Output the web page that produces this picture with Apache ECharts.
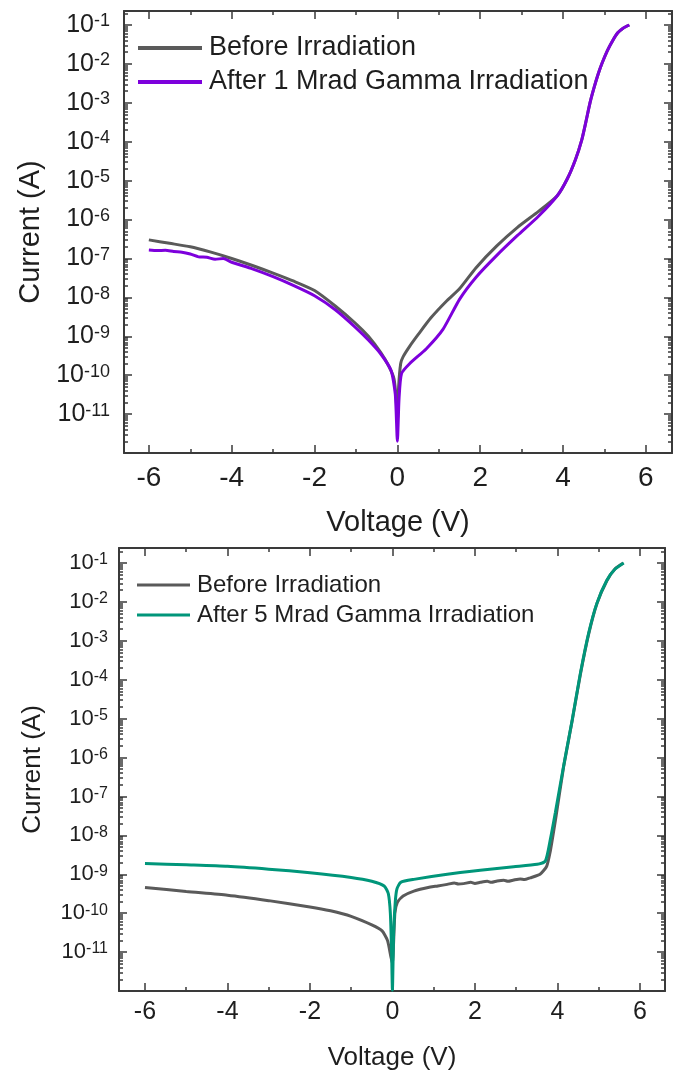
<!DOCTYPE html>
<html>
<head>
<meta charset="utf-8">
<script src="https://cdn.jsdelivr.net/npm/echarts@6/dist/echarts.min.js"></script>
<style>
html, body { margin: 0; padding: 0; background: #fff; }
#chart { width: 681px; height: 1072px; }
</style>
</head>
<body>
<div id="chart"></div>
<script>
var chart = echarts.init(document.getElementById('chart'));

// upper panel: before / after 1 Mrad
var before1V = [-6, -5.5, -5, -4.5, -4, -3.5, -3, -2.5, -2, -1.5, -1, -0.7, -0.4, -0.2, -0.08, -0.03, 0, 0.03, 0.08, 0.14,
    0.3, 0.5, 0.8, 1.2, 1.5, 1.9, 2.4, 2.9, 3.4, 3.86, 4.1, 4.3, 4.45, 4.55, 4.65, 4.75, 4.85, 4.95, 5.07, 5.2, 5.32, 5.45, 5.6];
var before1I = [3.0e-7, 2.45e-7, 2.0e-7, 1.45e-7, 1.0e-7, 6.6e-8, 4.2e-8, 2.6e-8, 1.5e-8, 6.0e-9, 2.1e-9, 1.0e-9, 3.8e-10, 1.65e-10, 8e-11, 2.5e-11, 6.3e-12, 5e-11, 2e-10, 3e-10,
    5.6e-10, 1.1e-9, 2.9e-9, 8.3e-9, 1.66e-8, 5.8e-8, 2.1e-7, 6.3e-7, 1.6e-6, 4.1e-6, 1.1e-5, 3.5e-5, 1.1e-4, 3.2e-4, 1.0e-3, 2.5e-3, 5.6e-3, 1.1e-2, 2.2e-2, 4.0e-2, 6.3e-2, 8.3e-2, 1.0e-1];

var after1V = [-6, -5.8, -5.6, -5.4, -5.2, -5.0, -4.8, -4.6, -4.4, -4.2, -4.0, -3.5, -3.0, -2.5, -2.0, -1.5, -1.0, -0.7, -0.4, -0.15,
    -0.05, 0, 0.04, 0.1, 0.3, 0.7, 1.1, 1.5, 1.9, 2.4, 2.9, 3.4, 3.86, 4.1, 4.3, 4.45, 4.55, 4.65, 4.75, 4.85, 4.95, 5.07, 5.2, 5.32, 5.45, 5.6];
var after1I = [1.65e-7, 1.6e-7, 1.62e-7, 1.5e-7, 1.45e-7, 1.3e-7, 1.1e-7, 1.07e-7, 9.5e-8, 1.0e-7, 8.0e-8, 5.4e-8, 3.4e-8, 2.0e-8, 1.1e-8, 4.8e-9, 1.65e-9, 8e-10, 3.5e-10, 1.3e-10,
    3.2e-11, 2.0e-12, 2.5e-11, 1.1e-10, 2e-10, 4.8e-10, 1.5e-9, 8.9e-9, 3.3e-8, 1.2e-7, 3.9e-7, 1.2e-6, 4.1e-6, 1.1e-5, 3.5e-5, 1.1e-4, 3.2e-4, 1.0e-3, 2.5e-3, 5.6e-3, 1.1e-2, 2.2e-2, 4.0e-2, 6.3e-2, 8.3e-2, 1.0e-1];

// lower panel: before / after 5 Mrad
var before5V = [-6, -5, -4, -3, -2, -1.5, -1, -0.5, -0.25, -0.12, -0.04, 0, 0.06, 0.12, 0.26, 0.52, 0.92, 1.1, 1.33, 1.5,
    1.6, 1.73, 1.9, 2.0, 2.13, 2.3, 2.4, 2.54, 2.7, 2.8, 2.94, 3.1, 3.2, 3.34, 3.58, 3.74, 3.83, 3.9, 3.97, 4.15,
    4.36, 4.56, 4.76, 4.96, 5.2, 5.4, 5.6];
var before5I = [4.6e-10, 3.6e-10, 2.9e-10, 2.1e-10, 1.45e-10, 1.15e-10, 8.3e-11, 5.0e-11, 3.5e-11, 2.0e-11, 7.9e-12, 5.0e-12, 1.0e-10, 1.9e-10, 2.75e-10, 3.7e-10, 4.7e-10, 5.0e-10, 5.5e-10, 6.0e-10,
    5.6e-10, 5.75e-10, 6.2e-10, 5.8e-10, 6.2e-10, 6.6e-10, 6.2e-10, 6.7e-10, 7.0e-10, 6.6e-10, 7.1e-10, 7.6e-10, 7.3e-10, 8.1e-10, 1.0e-9, 1.6e-9, 4.0e-9, 1.1e-8, 3.2e-8, 5.6e-7,
    8.9e-6, 1.4e-4, 1.5e-3, 9.1e-3, 3.5e-2, 7.1e-2, 1.0e-1];

var after5V = [-6, -5, -4, -3, -2, -1, -0.5, -0.2, -0.1, -0.05, -0.02, 0, 0.03, 0.07, 0.11, 0.2, 0.52, 1.33, 2.13, 2.94,
    3.51, 3.71, 3.83, 3.95, 4.15, 4.36, 4.56, 4.76, 4.96, 5.2, 5.4, 5.61];
var after5I = [1.9e-9, 1.75e-9, 1.6e-9, 1.35e-9, 1.1e-9, 8.3e-10, 6.6e-10, 5.0e-10, 3.2e-10, 1.0e-10, 1.0e-11, 1.05e-12, 3.2e-11, 2.0e-10, 4.2e-10, 6.2e-10, 7.4e-10, 1.0e-9, 1.26e-9, 1.55e-9,
    1.8e-9, 2.2e-9, 7.9e-9, 3.8e-8, 6.0e-7, 9.3e-6, 1.5e-4, 1.6e-3, 9.3e-3, 3.6e-2, 7.0e-2, 1.0e-1];

// tick values (voltage, and decades of current as exponents)
var xMajor = [-6, -4, -2, 0, 2, 4, 6];
var xMinor = [-5, -3, -1, 1, 3, 5];
var yMajor = [-12, -11, -10, -9, -8, -7, -6, -5, -4, -3, -2, -1];
var yLabels = [-11, -10, -9, -8, -7, -6, -5, -4, -3, -2, -1];

var fontFamily = '"Liberation Sans", Arial, sans-serif';
var ink = '#1e1e1e';
var boxColor = '#3a3a3a';
var grayColor = '#5a5a5a';

function logMinor(top) {
    var out = [];
    for (var n = -12; n <= -1; n++) {
        for (var k = 2; k <= 9; k++) {
            var v = n + Math.log10(k);
            if (v < top) out.push(v);
        }
    }
    return out;
}

function pairs(v, cur) {
    return v.map(function (x, k) { return [x, Math.log10(cur[k])]; });
}

var panels = [
    {
        grid: { left: 124, top: 11, width: 548, height: 442 },
        xMin: -6.6, xMax: 6.63, yMax: -0.64,
        labelSize: 25, supSize: 18, xLabelSize: 28, nameSize: 29,
        xLabelMargin: 11, yLabelMargin: 14, xNameGap: 55, yNameGap: 76,
        legend: { left: 133, top: 28, itemWidth: 64, fontSize: 27, lineHeight: 30, itemGap: 4, lineWidth: 4 },
        series: [
            { name: 'Before Irradiation', v: before1V, i: before1I, color: grayColor },
            { name: 'After 1 Mrad Gamma Irradiation', v: after1V, i: after1I, color: '#7d00dc' }
        ]
    },
    {
        grid: { left: 119, top: 548, width: 546, height: 443 },
        xMin: -6.63, xMax: 6.61, yMax: -0.615,
        labelSize: 22, supSize: 16, xLabelSize: 25, nameSize: 26,
        xLabelMargin: 9, yLabelMargin: 11, xNameGap: 54, yNameGap: 73,
        legend: { left: 132, top: 566, itemWidth: 53, fontSize: 24, lineHeight: 28, itemGap: 2, lineWidth: 3 },
        series: [
            { name: 'Before Irradiation', v: before5V, i: before5I, color: grayColor },
            { name: 'After 5 Mrad Gamma Irradiation', v: after5V, i: after5I, color: '#00967a' }
        ]
    }
];

var grids = [], xAxes = [], yAxes = [], series = [], legends = [];

panels.forEach(function (p, g) {
    grids.push(p.grid);
    var tickStyle = { color: boxColor, width: 1.5 };
    var lineOn = { show: true, onZero: false, lineStyle: { color: boxColor, width: 2 } };
    var lineOff = { show: false, onZero: false };
    var noLabel = { show: false };

    function xAxis(pos, ticks, len, extra) {
        return Object.assign({
            gridIndex: g, type: 'value', position: pos, min: p.xMin, max: p.xMax,
            splitLine: { show: false },
            axisLine: len > 5 ? lineOn : lineOff,
            axisTick: { inside: true, length: len, customValues: ticks, lineStyle: tickStyle },
            axisLabel: noLabel
        }, extra || {});
    }
    function yAxis(pos, ticks, len, extra) {
        return Object.assign({
            gridIndex: g, type: 'value', position: pos, min: -12, max: p.yMax,
            splitLine: { show: false },
            axisLine: len > 5 ? lineOn : lineOff,
            axisTick: { inside: true, length: len, customValues: ticks, lineStyle: tickStyle },
            axisLabel: noLabel
        }, extra || {});
    }

    xAxes.push(xAxis('bottom', xMajor, 8, {
        axisLabel: {
            customValues: xMajor, margin: p.xLabelMargin,
            fontSize: p.xLabelSize, color: ink, fontFamily: fontFamily
        },
        name: 'Voltage (V)', nameLocation: 'middle', nameGap: p.xNameGap,
        nameTextStyle: { fontSize: p.nameSize, color: ink, fontFamily: fontFamily }
    }));
    xAxes.push(xAxis('bottom', xMinor, 4));
    xAxes.push(xAxis('top', xMajor, 8));
    xAxes.push(xAxis('top', xMinor, 4));

    yAxes.push(yAxis('left', yMajor, 8, {
        axisLabel: {
            customValues: yLabels, margin: p.yLabelMargin,
            color: ink, fontFamily: fontFamily, fontSize: p.labelSize,
            formatter: function (v) { return '{b|10}{s|' + Math.round(v) + '}'; },
            rich: {
                b: { fontSize: p.labelSize, color: ink, fontFamily: fontFamily },
                s: { fontSize: p.supSize, color: ink, fontFamily: fontFamily, verticalAlign: 'top' }
            }
        },
        name: 'Current (A)', nameLocation: 'middle', nameGap: p.yNameGap,
        nameTextStyle: { fontSize: p.nameSize, color: ink, fontFamily: fontFamily }
    }));
    yAxes.push(yAxis('left', logMinor(p.yMax), 4));
    yAxes.push(yAxis('right', yMajor, 8));
    yAxes.push(yAxis('right', logMinor(p.yMax), 4));

    p.series.forEach(function (s) {
        series.push({
            name: s.name,
            type: 'line',
            xAxisIndex: g * 4,
            yAxisIndex: g * 4,
            symbol: 'none',
            smooth: 0.2,
            lineStyle: { color: s.color, width: 3 },
            itemStyle: { color: s.color },
            data: pairs(s.v, s.i)
        });
    });

    legends.push({
        orient: 'vertical',
        left: p.legend.left,
        top: p.legend.top,
        icon: 'rect',
        itemWidth: p.legend.itemWidth,
        itemHeight: p.legend.lineWidth,
        itemGap: p.legend.itemGap,
        selectedMode: false,
        data: p.series.map(function (s) { return s.name; }),
        textStyle: {
            fontSize: p.legend.fontSize, lineHeight: p.legend.lineHeight,
            color: ink, fontFamily: fontFamily, padding: [0, 0, 0, 2]
        }
    });
});

chart.setOption({
    backgroundColor: '#fff',
    animation: false,
    grid: grids,
    xAxis: xAxes,
    yAxis: yAxes,
    legend: legends,
    series: series
});
</script>
</body>
</html>
